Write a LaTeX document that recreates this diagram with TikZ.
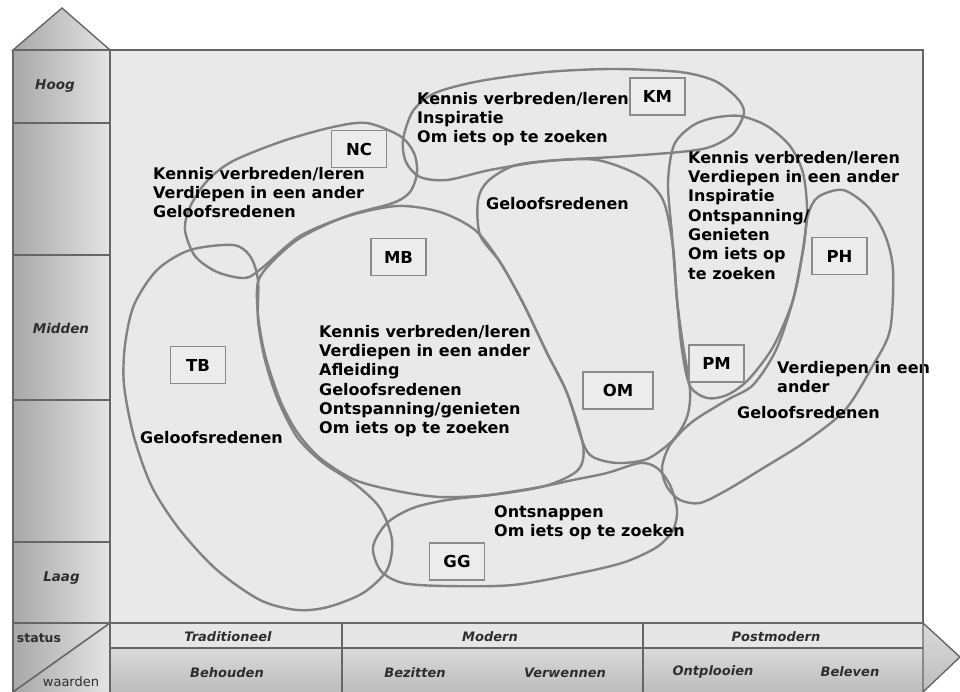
\documentclass[tikz,border=0pt]{standalone}
\usepackage{fontspec}
\setmainfont{DejaVu Sans}
\definecolor{plotbg}{HTML}{E9E9E9}
\definecolor{boxfill}{HTML}{ECECEC}
\definecolor{blobline}{HTML}{828282}
\definecolor{boxline}{HTML}{8A8A8A}
\definecolor{frameline}{HTML}{666666}
\definecolor{colL}{HTML}{A8A8A8}
\definecolor{colR}{HTML}{E4E4E4}
\definecolor{rowone}{HTML}{E6E6E6}
\definecolor{rowtwoT}{HTML}{DADADA}
\definecolor{rowtwoB}{HTML}{BDBDBD}
\definecolor{axtext}{HTML}{2E2E2E}
\begin{document}
\begin{tikzpicture}[x=1pt,y=-1pt,
  blob/.style={draw=blobline, line width=2.4pt},
  lbox/.style={draw=boxline, line width=1.8pt, fill=boxfill, minimum width=55pt, minimum height=37pt, inner sep=0pt, font=\bfseries\fontsize{16.5}{18}\selectfont},
  txt/.style={anchor=north west, inner sep=0pt, align=left, font=\bfseries\fontsize{16}{19.3}\selectfont},
  axlab/.style={font=\bfseries\itshape\fontsize{13}{15}\selectfont, text=axtext, inner sep=0pt},
  frame/.style={draw=frameline, line width=1.6pt}]
\useasboundingbox (0,0) rectangle (960,692);
\fill[white] (0,0) rectangle (960,692);
% plot area
\fill[plotbg] (110,50) rectangle (923,623);
% blobs
\draw[blob] plot[smooth cycle] coordinates {(403,140) (413,111) (435,93) (480,81) (547,72) (613,69) (680,72) (715,81) (737,98) (744,113) (733,134) (710,147) (680,152) (613,157) (547,161) (490,170) (447,180) (420,177) (406,162)};
\draw[blob] plot[smooth cycle] coordinates {(367,123) (400,136) (414,153) (417,173) (410,192) (393,203) (350,215) (300,236) (262,268) (245,278) (217,272) (195,256) (185,230) (190,207) (207,181) (233,161) (283,141) (333,127)};
\draw[blob] plot[smooth cycle] coordinates {(233,245) (250,256) (258,280) (258,320) (265,360) (278,400) (297,437) (322,462) (355,484) (380,508) (392,540) (387,570) (363,593) (328,607) (297,610) (260,600) (217,570) (180,530) (152,487) (134,437) (124,385) (125,345) (134,305) (157,270) (190,250)};
\draw[blob] plot[smooth cycle] coordinates {(258,282) (272,262) (300,238) (345,217) (397,206) (440,212) (475,230) (500,262) (523,303) (547,353) (567,393) (583,445) (578,470) (545,486) (490,495) (440,497) (397,491) (355,480) (320,458) (297,432) (280,400) (265,355) (258,315)};
\draw[blob] plot[smooth cycle] coordinates {(478,200) (488,181) (513,166) (547,161) (597,160) (640,176) (663,200) (673,247) (677,300) (683,345) (690,390) (687,417) (673,440) (647,459) (617,463) (593,457) (583,443) (567,393) (547,353) (523,303) (500,262) (480,235)};
\draw[blob] plot[smooth cycle] coordinates {(713,118) (740,116) (767,126) (790,146) (803,173) (807,210) (803,250) (793,300) (773,347) (748,380) (727,395) (707,398) (690,386) (682,350) (677,300) (672,235) (668,183) (674,145) (692,126)};
\draw[blob] plot[smooth cycle] coordinates {(843,190) (868,207) (885,235) (893,270) (890,330) (872,367) (845,410) (805,442) (760,470) (727,490) (700,503) (680,500) (667,487) (662,468) (670,445) (692,422) (727,400) (753,385) (776,350) (793,300) (803,250) (808,215) (818,197)};
\draw[blob] plot[smooth cycle] coordinates {(373,547) (381,571) (403,583) (445,586) (513,585) (580,573) (625,562) (657,547) (673,530) (677,510) (670,485) (657,468) (640,463) (607,473) (573,480) (540,487) (490,495) (447,500) (413,508) (387,523)};
% texts
\node[txt] (tKM) at (417,92) {Kennis verbreden/leren\\Inspiratie\\Om iets op te zoeken};
\node[txt] (tNC) at (153,167) {Kennis verbreden/leren\\Verdiepen in een ander\\Geloofsredenen};
\node[txt] (tOM) at (486,197) {Geloofsredenen};
\node[txt] (tPM) at (688,151) {Kennis verbreden/leren\\Verdiepen in een ander\\Inspiratie\\Ontspanning/\\Genieten\\Om iets op\\te zoeken};
\node[txt] (tMB) at (319,325) {Kennis verbreden/leren\\Verdiepen in een ander\\Afleiding\\Geloofsredenen\\Ontspanning/genieten\\Om iets op te zoeken};
\node[txt] (tTB) at (140,431) {Geloofsredenen};
\node[txt] (tPHa) at (777,361) {Verdiepen in een\\ander};
\node[txt] (tPHb) at (737,406) {Geloofsredenen};
\node[txt] (tGG) at (494,505) {Ontsnappen\\Om iets op te zoeken};
% boxes
\node[lbox] (KM) at (657.5,96.5) {KM};
\node[lbox] (NC) at (359,149) {NC};
\node[lbox] (MB) at (398.5,257) {MB};
\node[lbox] (TB) at (198,365) {TB};
\node[lbox, minimum width=70pt] (OM) at (618,390.5) {OM};
\node[lbox] (PM) at (716.5,363.5) {PM};
\node[lbox] (PH) at (839.5,256) {PH};
\node[lbox] (GG) at (457,561.5) {GG};
% left axis
\shadedraw[left color=colL, right color=colR, draw=frameline, line width=1.4pt] (13,50) -- (62,8) -- (110,50) -- cycle;
\shade[left color=colL, right color=colR] (13,50) rectangle (110,623);
\shade[left color=colL, right color=colR] (13,623) rectangle (110,692);
% bottom axis
\fill[rowone] (110,623) rectangle (923,648);
\shade[top color=rowtwoT, bottom color=rowtwoB] (110,648) rectangle (923,692);
\shadedraw[top color=rowtwoT, bottom color=rowtwoB, draw=frameline, line width=1.4pt] (923,623) -- (960,657) -- (923,692) -- cycle;
% frame lines
\draw[frame] (13,50) -- (923,50) -- (923,623);
\draw[frame] (13,50) -- (13,692);
\draw[frame] (110,50) -- (110,692);
\draw[frame] (13,623) -- (923,623);
\draw[frame] (110,648) -- (923,648);
\draw[frame] (342,623) -- (342,692);
\draw[frame] (643,623) -- (643,692);
\draw[frame] (13,123) -- (110,123);
\draw[frame] (13,255) -- (110,255);
\draw[frame] (13,400) -- (110,400);
\draw[frame] (13,542) -- (110,542);
\draw[frame] (13,692) -- (110,623);
% axis labels
\node[axlab, font=\bfseries\itshape\fontsize{13.5}{15}\selectfont] (hoog) at (55,86) {Hoog};
\node[axlab, font=\bfseries\itshape\fontsize{13.5}{15}\selectfont] (midden) at (61,328) {Midden};
\node[axlab, font=\bfseries\itshape\fontsize{13.5}{15}\selectfont] (laag) at (61.5,578) {Laag};
\node[font=\bfseries\fontsize{12.5}{14}\selectfont, text=axtext, inner sep=0pt] (status) at (39,638) {status};
\node[font=\fontsize{13}{15}\selectfont, text=axtext, inner sep=0pt] (waarden) at (71,682) {waarden};
\node[axlab] (trad) at (228,637) {Traditioneel};
\node[axlab] (modern) at (490,637) {Modern};
\node[axlab] (postm) at (776,637) {Postmodern};
\node[axlab] (behouden) at (227,673) {Behouden};
\node[axlab] (bezitten) at (415,673) {Bezitten};
\node[axlab] (verwennen) at (565,673) {Verwennen};
\node[axlab] (ontpl) at (713,672) {Ontplooien};
\node[axlab] (beleven) at (850,672) {Beleven};
\end{tikzpicture}
\end{document}
